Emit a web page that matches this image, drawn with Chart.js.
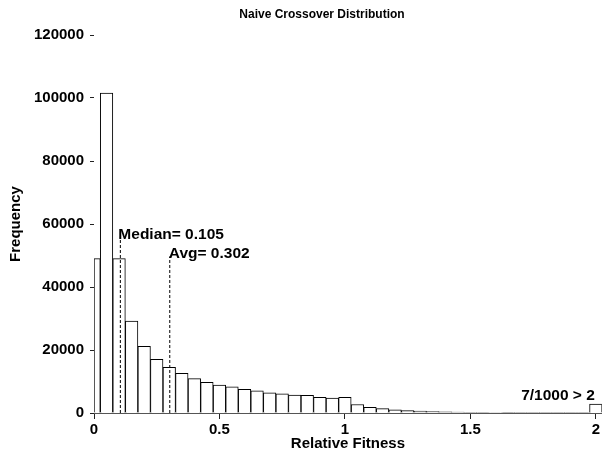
<!DOCTYPE html>
<html>
<head>
<meta charset="utf-8">
<title>Naive Crossover Distribution</title>
<script src="https://cdn.jsdelivr.net/npm/chart.js@4.4.1/dist/chart.umd.min.js"></script>
<style>
  html, body { margin: 0; padding: 0; background: #fff; }
  canvas { display: block; }
</style>
</head>
<body>
<canvas id="chart" width="602" height="453"></canvas>
<script>
// histogram bins (centre of each 0.05 wide bin), last one holds everything > 2
const BIN_CENTERS = [0.05, 0.1, 0.15, 0.2, 0.25, 0.3, 0.35, 0.4, 0.45, 0.5,
                     0.55, 0.6, 0.65, 0.7, 0.75, 0.8, 0.85, 0.9, 0.95, 1.0,
                     1.05, 1.1, 1.15, 1.2, 1.25, 1.3, 1.35, 1.4, 1.45, 1.5,
                     1.55, 1.6, 1.65, 1.7, 1.75, 1.8, 1.85, 1.9, 1.95, 2.0];
const BIN_COUNTS = [101600, 49000, 29200, 21200, 17000, 14500, 12600, 10900, 9700, 8900,
                    8300, 7500, 7000, 6400, 6100, 5700, 5600, 5000, 4700, 5000,
                    2700, 1800, 1400, 1000, 750, 600, 450, 380, 300, 250,
                    200, 170, 140, 120, 100, 80, 70, 60, 50, 2800];
// the first bin is only half as wide (0 .. 0.025)
const EDGE_BIN_CENTER = 0.0125;
const EDGE_BIN_COUNT = 49000;

const X_TICKS = [0, 0.5, 1, 1.5, 2];
const Y_MAX = 120000;
const Y_STEP = 20000;

const MEDIAN = 0.105;
const MEDIAN_LINE_TOP = 56000;
const AVG = 0.302;
const AVG_LINE_TOP = 49700;
const TAIL_LABEL = '7/1000 > 2';
const TAIL_LABEL_POS = [2, 4200];

const FONT_FAMILY = '"Liberation Sans", Arial, Helvetica, sans-serif';
Chart.defaults.font.family = FONT_FAMILY;
Chart.defaults.color = '#000';

const labelFont = { size: 15, weight: 'bold' };

/* titre + textes des lignes médiane / moyenne */
const textPlugin = {
    id: 'texts',
    afterDraw(chart) {
        const ctx = chart.ctx;
        const x = chart.scales.x;
        const y = chart.scales.y;
        ctx.save();
        ctx.fillStyle = '#000';

        ctx.font = 'bold 12px ' + FONT_FAMILY;
        ctx.textAlign = 'center';
        ctx.textBaseline = 'middle';
        ctx.fillText('Naive Crossover Distribution', 322, 15);

        ctx.font = 'bold 15.5px ' + FONT_FAMILY;
        ctx.textBaseline = 'alphabetic';
        ctx.textAlign = 'left';
        ctx.fillText('Median= ' + MEDIAN, x.getPixelForValue(MEDIAN) - 2, y.getPixelForValue(MEDIAN_LINE_TOP) + 2);
        ctx.fillText('Avg= ' + AVG, x.getPixelForValue(AVG) - 1, y.getPixelForValue(AVG_LINE_TOP) + 2);
        ctx.textAlign = 'right';
        ctx.fillText(TAIL_LABEL, x.getPixelForValue(TAIL_LABEL_POS[0]) - 1, y.getPixelForValue(TAIL_LABEL_POS[1]));
        ctx.restore();
    }
};

function vline(xv, top) {
    return {
        type: 'line',
        data: [{ x: xv, y: 0 }, { x: xv, y: top }],
        borderColor: '#000',
        borderWidth: 1,
        borderDash: [3, 2],
        pointRadius: 0,
        fill: false,
        xAxisID: 'x'
    };
}

const chartData = {
    datasets: [
        vline(MEDIAN, MEDIAN_LINE_TOP),
        vline(AVG, AVG_LINE_TOP),
        {
            type: 'bar',
            data: BIN_CENTERS.map((c, i) => ({ x: c, y: BIN_COUNTS[i] })),
            backgroundColor: '#fff',
            borderColor: '#000',
            borderWidth: 1,
            barPercentage: 1,
            categoryPercentage: 1,
            grouped: false,
            xAxisID: 'x'
        },
        {
            type: 'bar',
            data: [{ x: EDGE_BIN_CENTER, y: EDGE_BIN_COUNT }],
            backgroundColor: '#fff',
            borderColor: '#000',
            borderWidth: 1,
            barThickness: 6.3,
            grouped: false,
            xAxisID: 'x2'
        }
    ]
};

const options = {
    responsive: false,
    animation: false,
    devicePixelRatio: 1,
    layout: { padding: { top: 35, right: 0, left: 0, bottom: 0 } },
    plugins: {
        legend: { display: false },
        tooltip: { enabled: false },
        title: { display: false }
    },
    scales: {
        x: {
            type: 'linear',
            min: 0,
            max: 2.024,
            offset: false,
            afterBuildTicks: s => { s.ticks = X_TICKS.map(v => ({ value: v })); },
            border: { display: true, color: '#555', width: 1 },
            grid: { offset: false, drawOnChartArea: false, drawTicks: true, tickLength: 6, tickColor: '#222' },
            ticks: { padding: 2, color: '#000', font: labelFont, maxRotation: 0, autoSkip: false,
                     callback: v => String(v) },
            title: { display: true, text: 'Relative Fitness', color: '#000', font: labelFont,
                     padding: { top: 0, bottom: 0 } },
            afterFit: s => { s.height = 40; }
        },
        x2: {
            type: 'linear',
            min: 0,
            max: 2.024,
            offset: false,
            display: false,
            grid: { offset: false }
        },
        y: {
            min: 0,
            max: Y_MAX,
            border: { display: false },
            grid: { drawOnChartArea: false, drawTicks: true, tickLength: 7, tickColor: '#222',
                    tickBorderDash: [0, 3, 4, 20] },
            ticks: { stepSize: Y_STEP, padding: 3, color: '#000', font: labelFont,
                     callback: v => String(v) },
            title: { display: true, text: 'Frequency', color: '#000', font: labelFont,
                     padding: { top: 7, bottom: 0 } },
            afterFit: s => { s.width = 94; }
        }
    }
};

new Chart(document.getElementById('chart'), {
    type: 'bar',
    data: chartData,
    options: options,
    plugins: [textPlugin]
});
</script>
</body>
</html>
